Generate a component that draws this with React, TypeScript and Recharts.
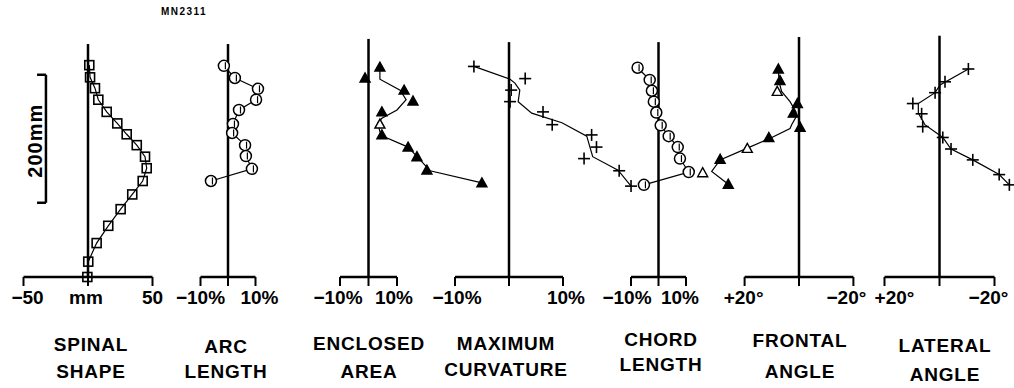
import { ScatterChart, Scatter, XAxis, YAxis, ReferenceLine } from 'recharts';

const FONT = '"Liberation Sans", Arial, Helvetica, sans-serif';
const W = 1014;
const H = 388;
const BASE_Y = 277; // px where height = 0
const PX_PER_MM = 0.64; // vertical scale
const Y_MAX = 380; // mm at top of plot
const XAXIS_H = 30;

// spinal shape: lateral offset (mm) against height (mm)
const spinalX = [1.0, 1.6, 5.4, 8.0, 14.5, 22.7, 30.0, 37.8, 44.2, 45.5, 42.4, 34.3, 25.3, 15.7, 6.7, 0.2, -0.5];
const spinalY = [331, 312, 295, 277, 258, 240, 223, 206, 188, 170, 150, 129, 106, 80, 53, 24, 0];

// arc length (%)
const arcX = [-1.5, 2.5, 10.9, 10.2, 4.0, 1.8, 1.5, 6.2, 6.5, 8.7, -6.2];
const arcY = [330, 311, 294, 277, 261, 239, 225, 206, 189, 169, 150];

// enclosed area (%)
const areaX = [4.0, -1.2, 12.5, 15.6, 4.7, 4.0, 4.7, 13.9, 17.0, 20.5, 39.8];
const areaY = [328, 311, 292, 275, 258, 239, 222, 203, 188, 167, 147];
const areaHollow = [5];
const areaFitX = [4.0, 4.0, 11.1, 13.2, 10.0, 4.7, 3.3, 4.0, 5.1, 13.9, 18.1, 21.6, 39.8];
const areaFitY = [328, 309, 292, 277, 261, 248, 241, 227, 220, 203, 183, 166, 147];

// maximum curvature (%)
const curvX = [-6.5, 3.0, 0.4, 0.2, 6.3, 8.0, 15.3, 16.2, 13.9, 20.4, 22.6];
const curvY = [329, 310, 292, 274, 258, 238, 222, 203, 185, 166, 142];
const curvFitX = [-6.5, 0.2, 1.1, 2.0, 1.7, 4.2, 9.8, 14.4, 15.5, 20.2, 22.6];
const curvFitY = [329, 309, 303, 292, 274, 256, 241, 220, 188, 167, 142];

// chord length (%)
const chordX = [-7.6, -3.2, -2.4, -1.7, -0.8, 0.8, 3.7, 7.0, 7.8, 11.0, -5.3];
const chordY = [327, 308, 291, 274, 257, 237, 220, 203, 185, 164, 144];

// frontal angle (deg)
const frontalX = [7.6, 7.0, 8.0, 0.6, 2.1, -0.4, 11.1, 19.0, 29.0, 35.4, 26.0];
const frontalY = [325, 307, 290, 271, 256, 234, 218, 201, 184, 163, 145];
const frontalHollow = [2, 7, 9];
const frontalFitX = [7.6, 7.2, 6.4, 3.3, 1.1, 1.1, 2.7, 3.3, 10.0, 19.2, 29.0, 32.1, 26.0];
const frontalFitY = [321, 303, 290, 274, 258, 250, 238, 232, 218, 201, 183, 165, 145];

// lateral angle (deg)
const lateralX = [-10.5, -2.0, 1.6, 9.7, 6.5, 6.1, -1.2, -4.2, -12.1, -21.7, -25.4];
const lateralY = [325, 305, 288, 271, 255, 235, 218, 200, 183, 160, 144];
const lateralFitX = [-10.5, -0.2, 1.6, 7.7, 7.7, 5.3, -1.2, -4.2, -12.1, -21.7, -25.4];
const lateralFitY = [325, 300, 288, 271, 256, 238, 218, 200, 183, 160, 144];

const pctTicks = [-10, 0, 10];
const pctLabels = ['\u221210%', '', '10%'];
const degTicks = [-20, 0, 20];
const degLabels = ['\u221220\u00b0', '', '+20\u00b0'];

const titles = [
  ['SPINAL', 'SHAPE'],
  ['ARC', 'LENGTH'],
  ['ENCLOSED', 'AREA'],
  ['MAXIMUM', 'CURVATURE'],
  ['CHORD', 'LENGTH'],
  ['FRONTAL', 'ANGLE'],
  ['LATERAL', 'ANGLE'],
];
const titlePos = [
  [91, 345, 372],
  [226, 347, 372],
  [369, 344, 372],
  [506, 344, 370],
  [661, 340, 365],
  [800, 341, 372],
  [945, 346, 375],
];

type Pt = { x: number; y: number; hollow?: boolean };
type Kind = 'square' | 'circle' | 'triangle' | 'cross';

const zip = (xs: number[], ys: number[], hollow: number[] = []): Pt[] =>
  xs.map((x, i) => ({ x, y: ys[i], hollow: hollow.includes(i) }));

const noShape = () => <g />;

const markers: Record<Kind, (p: any) => any> = {
  square: ({ cx, cy }) => (
    <rect x={cx - 4.5} y={cy - 4.5} width={9} height={9} fill="none" stroke="#000" strokeWidth={1.6} />
  ),
  circle: ({ cx, cy }) => (
    <g>
      <circle cx={cx} cy={cy} r={5.5} fill="#fff" stroke="#000" strokeWidth={1.5} />
      <line x1={cx + 1.5} y1={cy - 3.5} x2={cx + 1.5} y2={cy + 3.5} stroke="#000" strokeWidth={1.2} />
    </g>
  ),
  triangle: ({ cx, cy, payload }) => (
    <polygon
      points={`${cx},${cy - 5} ${cx - 5},${cy + 4} ${cx + 5},${cy + 4}`}
      fill={payload?.hollow ? '#fff' : '#000'}
      stroke="#000"
      strokeWidth={1.4}
    />
  ),
  cross: ({ cx, cy }) => (
    <g stroke="#000" strokeWidth={1.6}>
      <line x1={cx - 6} y1={cy} x2={cx + 6} y2={cy} />
      <line x1={cx} y1={cy - 6} x2={cx} y2={cy + 6} />
    </g>
  ),
};

type PanelSpec = {
  id: string;
  zeroPx: number;
  ppu: number;
  reversed?: boolean;
  ticks: number[];
  labels: string[];
  labelDx: number[]; // nudge of each tick label, px
  topMm: number;
  marker: Kind;
  pts: Pt[];
  fit: Pt[];
};

const panels: PanelSpec[] = [
  { id: 'spinal', zeroPx: 88, ppu: 1.29, ticks: [-50, 0, 50], labels: ['\u221250', 'mm', '50'], labelDx: [4, -2, 0], topMm: 364, marker: 'square', pts: zip(spinalX, spinalY), fit: zip(spinalX, spinalY) },
  { id: 'arc', zeroPx: 228, ppu: 2.75, ticks: pctTicks, labels: pctLabels, labelDx: [0, 0, 4], topMm: 364, marker: 'circle', pts: zip(arcX, arcY), fit: zip(arcX, arcY) },
  { id: 'area', zeroPx: 368.5, ppu: 2.85, ticks: pctTicks, labels: pctLabels, labelDx: [-2, 0, -3], topMm: 372, marker: 'triangle', pts: zip(areaX, areaY, areaHollow), fit: zip(areaFitX, areaFitY) },
  { id: 'curv', zeroPx: 509, ppu: 5.4, ticks: pctTicks, labels: pctLabels, labelDx: [2, 0, 3], topMm: 367, marker: 'cross', pts: zip(curvX, curvY), fit: zip(curvFitX, curvFitY) },
  { id: 'chord', zeroPx: 658.5, ppu: 2.75, ticks: pctTicks, labels: pctLabels, labelDx: [-4, 0, -6], topMm: 367, marker: 'circle', pts: zip(chordX, chordY), fit: zip(chordX, chordY) },
  { id: 'frontal', zeroPx: 799, ppu: 2.72, reversed: true, ticks: degTicks, labels: degLabels, labelDx: [-7, 0, -1], topMm: 375, marker: 'triangle', pts: zip(frontalX, frontalY, frontalHollow), fit: zip(frontalFitX, frontalFitY) },
  { id: 'lateral', zeroPx: 939.5, ppu: 2.75, reversed: true, ticks: degTicks, labels: degLabels, labelDx: [-6, 0, 10], topMm: 377, marker: 'cross', pts: zip(lateralX, lateralY), fit: zip(lateralFitX, lateralFitY) },
];

const ScaleLabel = (props: any) => {
  const vb = props.viewBox || {};
  const x = (vb.x ?? 46) - 11;
  const y = (vb.y ?? 75) + (vb.height ?? 128) / 2 + 2;
  return (
    <text
      x={x}
      y={y}
      transform={`rotate(-90, ${x}, ${y})`}
      textAnchor="middle"
      dominantBaseline="central"
      fontFamily={FONT}
      fontSize={20}
      fontWeight={700}
      letterSpacing={1}
      fill="#000"
    >
      200mm
    </text>
  );
};

const makeTick = (p: PanelSpec) => (props: any) => {
  const { x, y, payload } = props;
  const i = p.ticks.indexOf(payload.value);
  const label = p.labels[i] ?? '';
  if (!label) return <g />;
  return (
    <text
      x={x + (p.labelDx[i] ?? 0)}
      y={y}
      dy="0.71em"
      textAnchor="middle"
      fontFamily={FONT}
      fontSize={19}
      fontWeight={700}
      fill="#000"
    >
      {label}
    </text>
  );
};

function Panel({ p }: { p: PanelSpec }) {
  const lo = p.reversed ? (p.zeroPx - W) / p.ppu : -p.zeroPx / p.ppu;
  const hi = p.reversed ? p.zeroPx / p.ppu : (W - p.zeroPx) / p.ppu;
  const first = p.ticks[0];
  const last = p.ticks[p.ticks.length - 1];
  return (
    <div style={{ position: 'absolute', left: 0, top: 0 }}>
      <ScatterChart
        width={W}
        height={H}
        margin={{ top: BASE_Y - Y_MAX * PX_PER_MM, right: 0, bottom: H - BASE_Y - XAXIS_H, left: 0 }}
      >
        <XAxis
          type="number"
          dataKey="x"
          domain={[lo, hi]}
          reversed={p.reversed}
          ticks={p.ticks}
          interval={0}
          height={XAXIS_H}
          axisLine={false}
          tickLine={{ stroke: '#000', strokeWidth: 2 }}
          tickSize={9}
          tickMargin={5}
          tick={makeTick(p)}
        />
        <YAxis type="number" dataKey="y" domain={[0, Y_MAX]} hide />
        <ReferenceLine
          segment={[{ x: first, y: 0 }, { x: last, y: 0 }]}
          stroke="#000"
          strokeWidth={2.5}
          ifOverflow="visible"
        />
        <ReferenceLine
          segment={[{ x: 0, y: 0 }, { x: 0, y: p.topMm }]}
          stroke="#000"
          strokeWidth={2.5}
          ifOverflow="visible"
        />
        {p.id === 'spinal' && (
          <ReferenceLine
            segment={[{ x: -32.6, y: 116 }, { x: -32.6, y: 316 }]}
            stroke="#000"
            strokeWidth={2.5}
            ifOverflow="visible"
            label={(lp: any) => <ScaleLabel {...lp} />}
          />
        )}
        {p.id === 'spinal' && (
          <ReferenceLine segment={[{ x: -39.5, y: 116 }, { x: -32.6, y: 116 }]} stroke="#000" strokeWidth={2.5} ifOverflow="visible" />
        )}
        {p.id === 'spinal' && (
          <ReferenceLine segment={[{ x: -39.5, y: 316 }, { x: -32.6, y: 316 }]} stroke="#000" strokeWidth={2.5} ifOverflow="visible" />
        )}
        <Scatter data={p.fit} line={{ stroke: '#000', strokeWidth: 1.2 }} shape={noShape} isAnimationActive={false} />
        <Scatter data={p.pts} shape={markers[p.marker]} isAnimationActive={false} />
      </ScatterChart>
    </div>
  );
}

export default function App() {
  return (
    <div style={{ position: 'absolute', left: 0, top: 0, width: W, height: H, background: '#fff', fontFamily: FONT, color: '#000' }}>
      <div style={{ position: 'absolute', left: 134, width: 100, top: 6, textAlign: 'center', fontSize: 10, fontWeight: 700, letterSpacing: 1.5, lineHeight: '12px' }}>
        MN2311
      </div>
      {panels.map((p) => (
        <Panel key={p.id} p={p} />
      ))}
      {titles.map((t, i) =>
        t.map((line, j) => (
          <div
            key={`${i}-${j}`}
            style={{
              position: 'absolute',
              left: titlePos[i][0] - 100,
              width: 200,
              top: titlePos[i][1 + j] - 10,
              textAlign: 'center',
              fontSize: 19,
              fontWeight: 700,
              letterSpacing: 0.8,
              lineHeight: '20px',
            }}
          >
            {line}
          </div>
        ))
      )}
    </div>
  );
}
